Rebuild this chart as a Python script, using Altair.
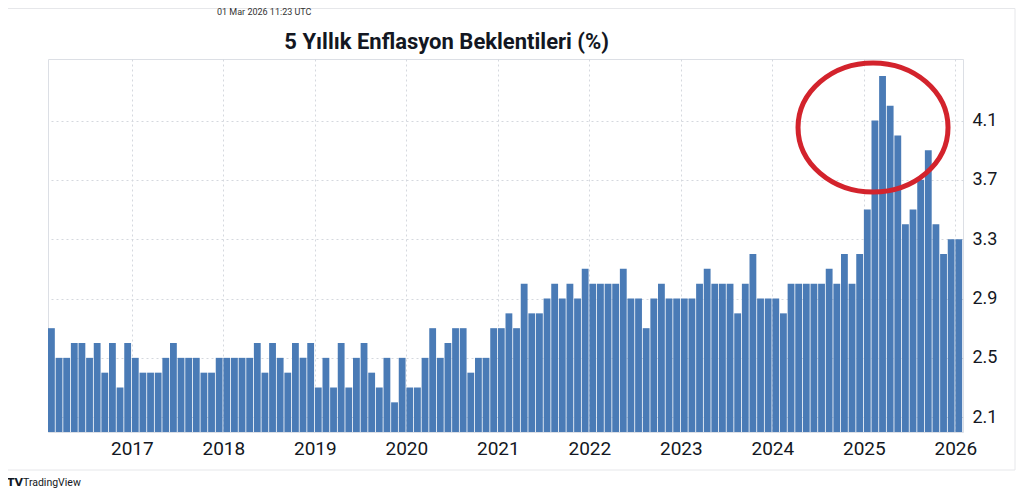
import altair as alt
import pandas as pd

# ---------------- data ----------------
TITLE = "5 Yıllık Enflasyon Beklentileri (%)"
STAMP = "01 Mar 2026 11:23 UTC"
BRAND = "TradingView"

FIRST_YEAR = 2016
FIRST_MONTH = 2  # first bar of the series: Feb 2016

v2016 = [2.7, 2.5, 2.5, 2.6, 2.6, 2.5, 2.6, 2.4, 2.6, 2.3, 2.6]          # Feb-Dec
v2017 = [2.5, 2.4, 2.4, 2.4, 2.5, 2.6, 2.5, 2.5, 2.5, 2.4, 2.4, 2.5]
v2018 = [2.5, 2.5, 2.5, 2.5, 2.6, 2.4, 2.6, 2.5, 2.4, 2.6, 2.5, 2.6]
v2019 = [2.3, 2.5, 2.3, 2.6, 2.3, 2.5, 2.6, 2.4, 2.3, 2.5, 2.2, 2.5]
v2020 = [2.3, 2.3, 2.5, 2.7, 2.5, 2.6, 2.7, 2.7, 2.4, 2.5, 2.5, 2.7]
v2021 = [2.7, 2.8, 2.7, 3.0, 2.8, 2.8, 2.9, 3.0, 2.9, 3.0, 2.9, 3.1]
v2022 = [3.0, 3.0, 3.0, 3.0, 3.1, 2.9, 2.9, 2.7, 2.9, 3.0, 2.9, 2.9]
v2023 = [2.9, 2.9, 3.0, 3.1, 3.0, 3.0, 3.0, 2.8, 3.0, 3.2, 2.9, 2.9]
v2024 = [2.9, 2.8, 3.0, 3.0, 3.0, 3.0, 3.0, 3.1, 3.0, 3.2, 3.0, 3.2]
v2025 = [3.5, 4.1, 4.4, 4.2, 4.0, 3.4, 3.5, 3.7, 3.9, 3.4, 3.2, 3.3]
v2026 = [3.3]                                                            # Jan

YEARS = [2017, 2018, 2019, 2020, 2021, 2022, 2023, 2024, 2025, 2026]
Y_TICKS = [2.1, 2.5, 2.9, 3.3, 3.7, 4.1]
Y_MIN, Y_MAX = 2.0, 4.515

values = v2016 + v2017 + v2018 + v2019 + v2020 + v2021 + v2022 + v2023 + v2024 + v2025 + v2026
start = (FIRST_MONTH - 1)
df = pd.DataFrame({
    "t": [start + k for k in range(len(values))],
    "v": values,
})
df["t2"] = df["t"] + 1
year_ticks = [(y - FIRST_YEAR) * 12 for y in YEARS]

# ---------------- styling ----------------
W, H = 915, 373
BAR = "#4a7bb6"
GRID = "#d5d8de"
TXT = "#131722"
RED = "#d3232c"
FONT = "Roboto"

x_scale = alt.Scale(domain=[start, start + len(values)], nice=False, zero=False)
y_scale = alt.Scale(domain=[Y_MIN, Y_MAX], nice=False, zero=False)

bars = alt.Chart(df).mark_bar(color=BAR, x2Offset=-0.8, clip=True).encode(
    x=alt.X("t:Q", scale=x_scale,
            axis=alt.Axis(values=year_ticks,
                          labelExpr=f"toString({FIRST_YEAR} + datum.value / 12)",
                          grid=True, gridDash=[2, 3], gridColor=GRID, gridWidth=1,
                          ticks=False, domain=False, labelFlush=False, labelOverlap=False,
                          labelFont=FONT, labelFontSize=19, labelColor=TXT,
                          labelPadding=7, title=None)),
    x2="t2:Q",
    y=alt.Y("v:Q", scale=y_scale,
            axis=alt.Axis(orient="right", values=Y_TICKS, format=".1f",
                          grid=True, gridDash=[2, 3], gridColor=GRID, gridWidth=1,
                          ticks=False, domain=False,
                          labelFont=FONT, labelFontSize=18, labelColor=TXT,
                          labelPadding=9, title=None)),
    y2=alt.datum(Y_MIN),
)

ELLIPSE = ("M -1 0 C -1 -0.475 -0.552 -0.86 0 -0.86 C 0.552 -0.86 1 -0.475 1 0 "
           "C 1 0.475 0.552 0.86 0 0.86 C -0.552 0.86 -1 0.475 -1 0 Z")
ring = alt.Chart(pd.DataFrame({"a": [0]})).mark_point(
    shape=ELLIPSE, size=22500, filled=False, color=RED, strokeWidth=5, opacity=1
).encode(x=alt.datum(109.2), y=alt.datum(4.053))

title = alt.Chart(pd.DataFrame({"s": [TITLE]})).mark_text(
    font=FONT, fontSize=22, fontWeight="bold", color=TXT, align="center", baseline="alphabetic"
).encode(text="s:N", x=alt.value(398.7), y=alt.value(-10))

stamp = alt.Chart(pd.DataFrame({"s": [STAMP]})).mark_text(
    font=FONT, fontSize=9, color="#333333", align="left", baseline="alphabetic"
).encode(text="s:N", x=alt.value(169), y=alt.value(-44))

logo = alt.Chart(pd.DataFrame({"s": ["TV"]})).mark_text(
    font="DejaVu Sans", fontSize=11, fontWeight=900, color=TXT, align="center", baseline="alphabetic"
).encode(text="s:N", x=alt.value(-33), y=alt.value(427))

brand = alt.Chart(pd.DataFrame({"s": [BRAND]})).mark_text(
    font=FONT, fontSize=10.5, color=TXT, align="left", baseline="alphabetic"
).encode(text="s:N", x=alt.value(-25), y=alt.value(427))

frame = alt.Chart(pd.DataFrame({"a": [0]})).mark_rect(
    fill=None, stroke="#e6e7ea", strokeWidth=1
).encode(x=alt.value(-41), x2=alt.value(967), y=alt.value(-50.5), y2=alt.value(411))

chart = alt.layer(frame, bars, ring, title, stamp, logo, brand).properties(
    width=W, height=H,
    padding={"left": 40, "top": 51, "right": 53, "bottom": 60},
    autosize=alt.AutoSizeParams(type="none"),
    background="white",
).configure_view(stroke="#dcdfe5", strokeWidth=1)

chart.save("out.html", embed_options={"renderer": "svg", "actions": False})
